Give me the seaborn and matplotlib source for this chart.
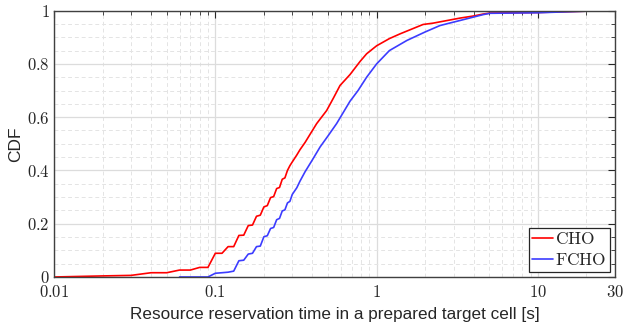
import numpy as np
import pandas as pd
import matplotlib
matplotlib.use("Agg")
import matplotlib.pyplot as plt
import seaborn as sns
from matplotlib.ticker import FixedLocator, FixedFormatter, MultipleLocator, LogLocator, NullFormatter

# ---- data ----
cho_x = [0.01, 0.02, 0.03, 0.04, 0.05, 0.06, 0.07, 0.08, 0.09, 0.10, 0.11, 0.12, 0.13,
         0.14, 0.15, 0.16, 0.17, 0.18, 0.19, 0.20, 0.21, 0.22, 0.23, 0.24, 0.25, 0.26,
         0.27, 0.28, 0.29, 0.30, 0.32, 0.335, 0.36, 0.386, 0.425, 0.49, 0.54, 0.593,
         0.684, 0.789, 0.867, 1.0, 1.2, 1.4, 1.94, 2.24, 3.29, 4.0, 4.57, 5.05, 10.0,
         20.0, 30.0]
cho_y = [0.0, 0.004, 0.006, 0.016, 0.016, 0.026, 0.026, 0.036, 0.036, 0.089, 0.089, 0.114,
         0.114, 0.156, 0.157, 0.193, 0.195, 0.228, 0.232, 0.263, 0.268, 0.298, 0.302, 0.332,
         0.336, 0.367, 0.372, 0.40, 0.418, 0.432, 0.458, 0.478, 0.505, 0.535, 0.576, 0.625,
         0.672, 0.719, 0.760, 0.809, 0.838, 0.868, 0.895, 0.913, 0.948, 0.953, 0.972,
         0.98, 0.987, 0.991, 0.993, 0.998, 1.0]

fcho_x = [0.06, 0.09, 0.10, 0.11, 0.12, 0.13, 0.14, 0.15, 0.16, 0.17, 0.18, 0.19, 0.20,
          0.21, 0.22, 0.23, 0.24, 0.25, 0.26, 0.27, 0.28, 0.29, 0.30, 0.32, 0.335, 0.36,
          0.40, 0.446, 0.50, 0.565, 0.684, 0.767, 0.867, 1.0, 1.2, 1.54, 2.0, 2.47, 3.29,
          4.57, 5.05, 10.0, 20.0, 30.0]
fcho_y = [0.0, 0.0, 0.014, 0.016, 0.018, 0.022, 0.061, 0.063, 0.086, 0.089, 0.114, 0.116,
          0.151, 0.155, 0.182, 0.186, 0.215, 0.22, 0.248, 0.252, 0.278, 0.284, 0.31, 0.335,
          0.36, 0.395, 0.44, 0.488, 0.53, 0.576, 0.66, 0.70, 0.75, 0.80, 0.85, 0.888, 0.92,
          0.944, 0.963, 0.985, 0.99, 0.992, 0.998, 1.0]

series_names = ["CHO", "FCHO"]
x_ticks = [0.01, 0.1, 1, 10, 30]
x_tick_labels = ["0.01", "0.1", "1", "10", "30"]
y_ticks = [0, 0.2, 0.4, 0.6, 0.8, 1]
y_tick_labels = ["0", "0.2", "0.4", "0.6", "0.8", "1"]

df = pd.concat([
    pd.DataFrame({"x": cho_x, "y": cho_y, "series": series_names[0]}),
    pd.DataFrame({"x": fcho_x, "y": fcho_y, "series": series_names[1]}),
], ignore_index=True)

sns.set_style("white")
plt.rcParams["font.family"] = ["Liberation Sans", "DejaVu Sans"]
plt.rcParams["mathtext.fontset"] = "cm"

fig = plt.figure(figsize=(6.23, 3.32), dpi=100)
ax = fig.add_axes([0.0867, 0.1657, 0.9003, 0.8023])

sns.lineplot(data=df, x="x", y="y", hue="series", estimator=None, sort=True,
             palette={"CHO": "#ff0000", "FCHO": "#3c3cff"}, linewidth=1.2, ax=ax,
             legend=False)

ax.set_xscale("log")
ax.set_xlim(0.01, 30)
ax.set_ylim(0, 1)

ax.xaxis.set_major_locator(FixedLocator(x_ticks))
ax.xaxis.set_major_formatter(FixedFormatter(["$%s$" % t for t in x_tick_labels]))
ax.xaxis.set_minor_locator(LogLocator(base=10, subs=np.arange(2, 10)))
ax.xaxis.set_minor_formatter(NullFormatter())
ax.yaxis.set_major_locator(FixedLocator(y_ticks))
ax.yaxis.set_major_formatter(FixedFormatter(["$%s$" % t for t in y_tick_labels]))
ax.yaxis.set_minor_locator(MultipleLocator(0.05))

ax.grid(True, which="major", color="#dcdcdc", linewidth=0.9, linestyle="-")
ax.grid(True, which="minor", color="#e4e4e4", linewidth=0.7, linestyle=(0, (4, 3)))
ax.set_axisbelow(True)

ax.tick_params(which="both", direction="in", top=True, right=True, colors="#262626",
               labelsize=12)
ax.tick_params(which="major", length=5, width=0.8)
ax.tick_params(which="minor", length=3, width=0.6)
ax.tick_params(axis="x", pad=5)
ax.tick_params(axis="y", pad=3)
for s in ax.spines.values():
    s.set_color("#404040")
    s.set_linewidth(1.0)

ax.set_xlabel("Resource reservation time in a prepared target cell [s]", fontsize=12.3,
              color="#262626", labelpad=5)
ax.set_ylabel("CDF", fontsize=12.5, color="#262626", labelpad=2.5)

handles = [plt.Line2D([], [], color="#ff0000", linewidth=1.2),
           plt.Line2D([], [], color="#3c3cff", linewidth=1.2)]
leg = ax.legend(handles, ["$\\mathrm{%s}$" % n for n in series_names], loc="lower right",
                fontsize=12.5, frameon=True, fancybox=False, edgecolor="#262626",
                borderaxespad=0.3, handlelength=1.2, handletextpad=0.1,
                borderpad=0.2, labelspacing=0.3)
leg.get_frame().set_linewidth(0.9)
leg.get_frame().set_alpha(1)

fig.savefig("out.png", dpi=100)
